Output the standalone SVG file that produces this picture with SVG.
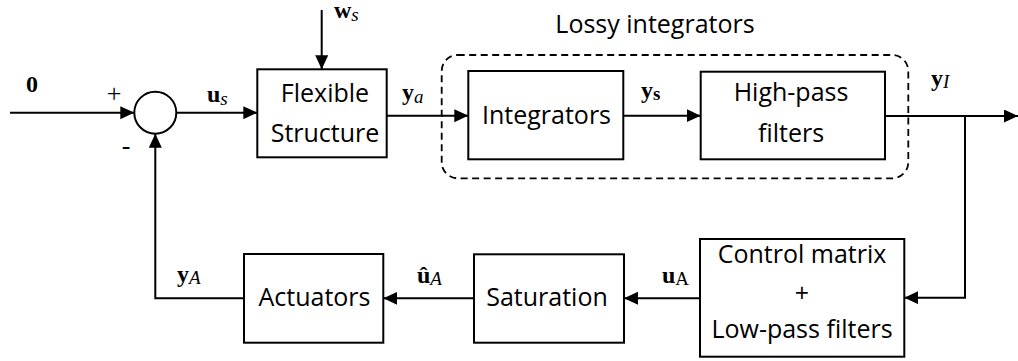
<svg xmlns="http://www.w3.org/2000/svg" width="1018" height="361" viewBox="0 0 1018 361">
<style>
.box{fill:#fff;stroke:#000;stroke-width:2}
.dash{fill:none;stroke:#000;stroke-width:1.8;stroke-dasharray:7 4.5}
.t{font-family:"Open Sans","Liberation Sans",sans-serif;font-size:25px;fill:#000;text-anchor:middle}
.m{font-family:"Liberation Serif","Times New Roman",serif;font-size:24px;font-weight:bold;fill:#000}
.sub{font-size:19px;font-weight:normal;font-style:italic}
.subr{font-size:19px;font-weight:normal}
.subb{font-size:19px}
.sg{font-family:"Liberation Serif","Times New Roman",serif;font-size:26px;fill:#000;text-anchor:middle}
</style>
<defs>
<marker id="arr" markerUnits="userSpaceOnUse" markerWidth="14" markerHeight="14" refX="14" refY="6.5" orient="auto">
<path d="M0,0 L14,6.5 L0,13 z" fill="#000"/>
</marker>
</defs>

<g id="lossy">
<rect class="dash" x="441.7" y="55" width="466.6" height="123.3" rx="16" ry="16"/>
<text class="t" x="655" y="33">Lossy integrators</text>
</g>

<g id="sum">
<circle cx="155.3" cy="112.7" r="21" fill="#fff" stroke="#000" stroke-width="2"/>
<text class="sg" x="114" y="102">+</text>
<text class="sg" x="126" y="154" font-size="28">-</text>
</g>

<g id="flexible">
<rect class="box" x="257.3" y="69.3" width="129.4" height="88"/>
<text class="t" x="325" y="101.7">Flexible</text>
<text class="t" x="325" y="141.7">Structure</text>
</g>

<g id="integrators">
<rect class="box" x="468.3" y="71" width="155" height="88.3"/>
<text class="t" x="546.5" y="124">Integrators</text>
</g>

<g id="highpass">
<rect class="box" x="700.7" y="71.7" width="184.3" height="87.6"/>
<text class="t" x="791" y="100.5">High-pass</text>
<text class="t" x="791" y="141.7">filters</text>
</g>

<g id="control">
<rect class="box" x="700" y="239" width="204.3" height="117.7"/>
<text class="t" x="802" y="263">Control matrix</text>
<text class="t" x="802" y="302">+</text>
<text class="t" x="802" y="338">Low-pass filters</text>
</g>

<g id="saturation">
<rect class="box" x="474" y="254.3" width="150" height="88.4"/>
<text class="t" x="547" y="305.5">Saturation</text>
</g>

<g id="actuators">
<rect class="box" x="244" y="254" width="139.3" height="88.7"/>
<text class="t" x="314.5" y="305.5">Actuators</text>
</g>

<g id="connectors" fill="none" stroke="#000" stroke-width="2">
<path d="M10,112.7 H134.3" marker-end="url(#arr)"/>
<path d="M176.3,112.7 H257.3" marker-end="url(#arr)"/>
<path d="M321.7,10 V69.3" marker-end="url(#arr)"/>
<path d="M386.7,115.7 H468.3" marker-end="url(#arr)"/>
<path d="M623.3,115.7 H700.7" marker-end="url(#arr)"/>
<path d="M885,116 H1018" marker-end="url(#arr)"/>
<path d="M965,116 V297.7 H904.3" marker-end="url(#arr)"/>
<path d="M700,298.3 H624" marker-end="url(#arr)"/>
<path d="M474,298.3 H383.3" marker-end="url(#arr)"/>
<path d="M244,298.3 H155.3 V133.7" marker-end="url(#arr)"/>
</g>

<g id="labels">
<text class="m" x="26" y="92" font-size="26">0</text>
<text class="m" x="207" y="102">u<tspan class="sub" dy="3">s</tspan></text>
<text class="m" x="334" y="18">w<tspan class="sub" dy="3">s</tspan></text>
<text class="m" x="402" y="100">y<tspan class="sub" dy="3">a</tspan></text>
<text class="m" x="641" y="98">y<tspan class="subb" dy="2">s</tspan></text>
<text class="m" x="931" y="86">y<tspan class="sub" dy="2">I</tspan></text>
<text class="m" x="417" y="283">û<tspan class="sub" dy="2">A</tspan></text>
<text class="m" x="662" y="283">u<tspan class="subr" dy="2">A</tspan></text>
<text class="m" x="177" y="282">y<tspan class="sub" dy="2">A</tspan></text>
</g>
</svg>
